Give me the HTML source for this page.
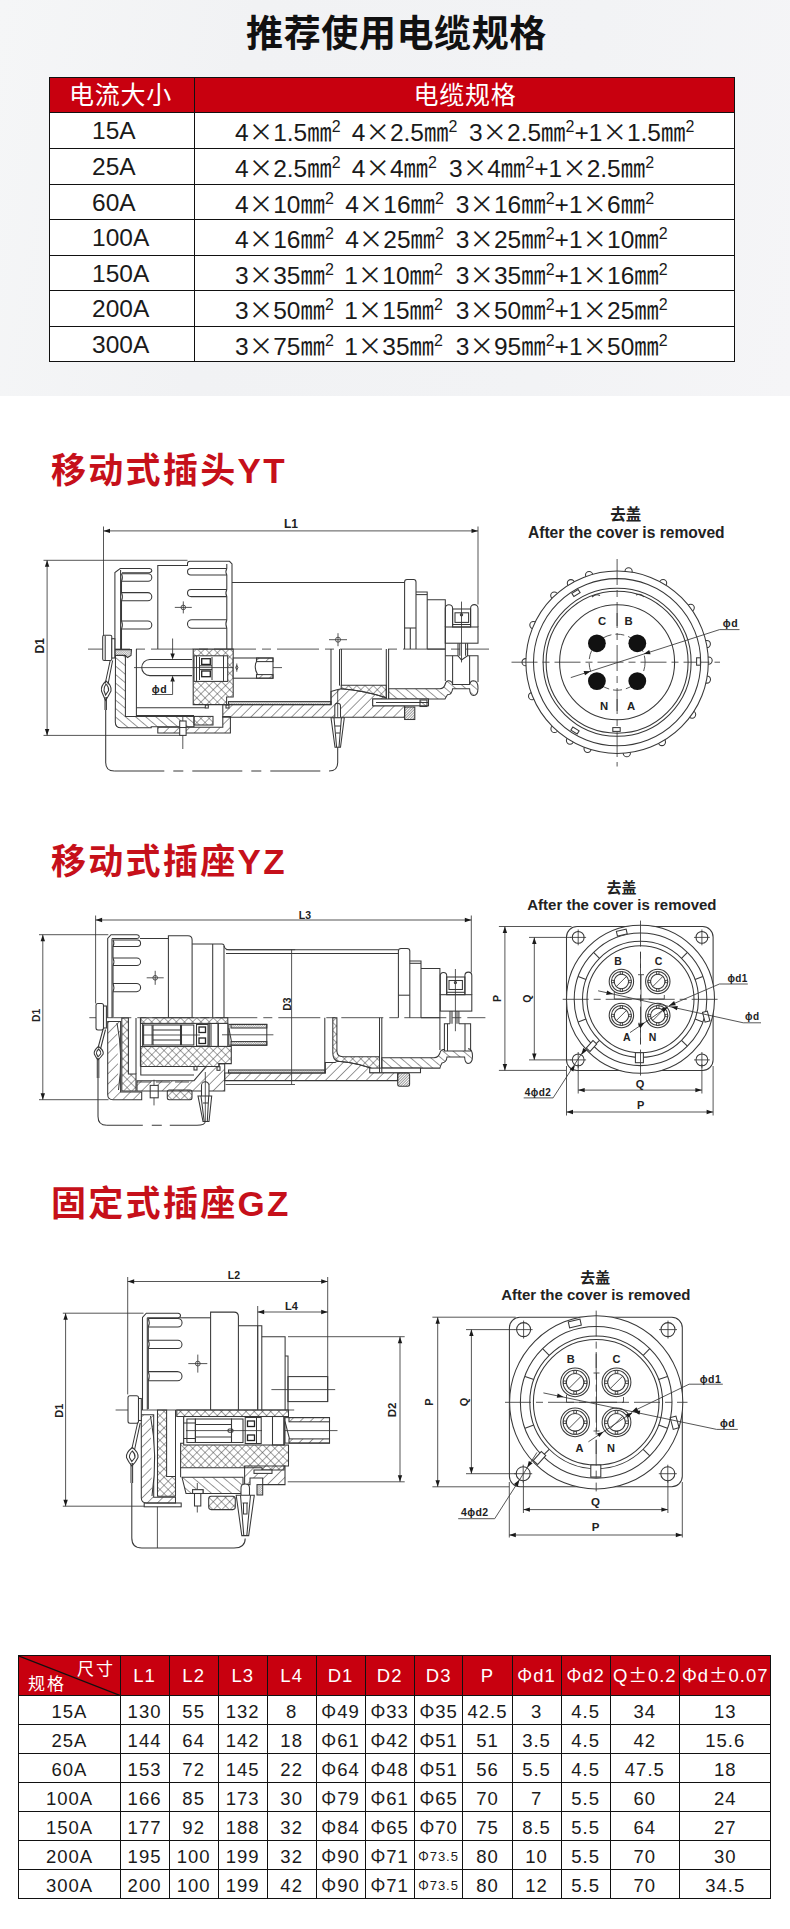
<!DOCTYPE html>
<html lang="zh-CN">
<head>
<meta charset="utf-8">
<title>推荐使用电缆规格</title>
<style>
*{box-sizing:border-box;margin:0;padding:0}
html,body{width:790px;height:1929px;background:#fff;overflow:hidden}
body{position:relative;font-family:"Liberation Sans","Noto Sans CJK SC",sans-serif;color:#1a1a1a}
.c{font-family:"Noto Sans CJK SC",sans-serif}
#top{position:absolute;left:0;top:0;width:790px;height:396px;background:linear-gradient(100deg,#f5f6f7 0%,#f1f2f4 30%,#f2f3f5 70%,#f5f5f7 100%)}
#title{position:absolute;left:0;top:7.5px;width:790px;padding-left:3px;text-align:center;font-size:37px;font-weight:700;color:#111;letter-spacing:0.6px;line-height:54px}
.h{position:absolute;left:51px;font-size:35px;font-weight:700;color:#c6101a;letter-spacing:2.3px;line-height:44px;white-space:nowrap}
/* table 1 */
#t1{position:absolute;left:49px;top:77px;width:686px;height:285px;background:#fff;border:1px solid #111}
#t1 .hd{position:absolute;left:0;top:0;width:100%;height:34px;background:#c8000f;color:#fff;font-size:25px;line-height:35px}
#t1 .r{position:absolute;left:0;width:100%;height:36px;border-top:1px solid #111;font-size:24.5px;line-height:36px;white-space:nowrap}
#t1 .v{position:absolute;left:144px;top:0;width:1px;height:100%;background:#111}
#t1 .a{position:absolute;left:42px;top:0}
#t1 .g{position:absolute;top:0}
#t1 sup{font-size:16px;line-height:0;vertical-align:9px}
/* table 2 */
#t2{position:absolute;left:18px;top:1655px;width:753px;height:244px;background:#fff;border:1px solid #111;font-size:18.5px}
#t2 .hd{position:absolute;left:0;top:0;width:100%;height:39px;background:#c8000f;color:#fff}
#t2 .dg{position:absolute;left:0;top:0}
#t2 .k1{position:absolute;left:58px;top:3px;font-size:17px;letter-spacing:2px;line-height:22px}
#t2 .k2{position:absolute;left:9px;top:18px;font-size:17px;letter-spacing:2px;line-height:22px}
#t2 .hc{position:absolute;top:0;height:39px;line-height:40px;text-align:center;white-space:nowrap;letter-spacing:1px}
#t2 .r{position:absolute;left:0;width:100%;height:29px;border-top:1px solid #111}
#t2 .dc{position:absolute;top:0;height:29px;line-height:31px;text-align:center;white-space:nowrap;letter-spacing:1px}
#t2 .sm{font-size:13px}
#t2 .c{line-height:0}
#t2 .v{position:absolute;top:0;width:1px;height:100%;background:#111}
</style>
</head>
<body>
<div id="top"></div>
<div id="title">推荐使用电缆规格</div>

<div id="t1">
<div class="hd"><span style="position:absolute;left:-2px;width:145px;text-align:center;letter-spacing:.7px">电流大小</span><span style="position:absolute;left:145px;width:540px;text-align:center;letter-spacing:.7px">电缆规格</span></div>
<div class="r" style="top:34px"><span class="a">15A</span><span class="g" style="left:185.0px">4<span class="c">×</span>1.5<span class="c">㎜</span><sup>2</sup></span><span class="g" style="left:301.8px">4<span class="c">×</span>2.5<span class="c">㎜</span><sup>2</sup></span><span class="g" style="left:418.9px">3<span class="c">×</span>2.5<span class="c">㎜</span><sup>2</sup>+1<span class="c">×</span>1.5<span class="c">㎜</span><sup>2</sup></span></div>
<div class="r" style="top:70px"><span class="a">25A</span><span class="g" style="left:185.0px">4<span class="c">×</span>2.5<span class="c">㎜</span><sup>2</sup></span><span class="g" style="left:301.8px">4<span class="c">×</span>4<span class="c">㎜</span><sup>2</sup></span><span class="g" style="left:399.0px">3<span class="c">×</span>4<span class="c">㎜</span><sup>2</sup>+1<span class="c">×</span>2.5<span class="c">㎜</span><sup>2</sup></span></div>
<div class="r" style="top:106px"><span class="a">60A</span><span class="g" style="left:185.0px">4<span class="c">×</span>10<span class="c">㎜</span><sup>2</sup></span><span class="g" style="left:295.2px">4<span class="c">×</span>16<span class="c">㎜</span><sup>2</sup></span><span class="g" style="left:405.8px">3<span class="c">×</span>16<span class="c">㎜</span><sup>2</sup>+1<span class="c">×</span>6<span class="c">㎜</span><sup>2</sup></span></div>
<div class="r" style="top:141px"><span class="a">100A</span><span class="g" style="left:185.0px">4<span class="c">×</span>16<span class="c">㎜</span><sup>2</sup></span><span class="g" style="left:295.2px">4<span class="c">×</span>25<span class="c">㎜</span><sup>2</sup></span><span class="g" style="left:405.8px">3<span class="c">×</span>25<span class="c">㎜</span><sup>2</sup>+1<span class="c">×</span>10<span class="c">㎜</span><sup>2</sup></span></div>
<div class="r" style="top:177px"><span class="a">150A</span><span class="g" style="left:185.0px">3<span class="c">×</span>35<span class="c">㎜</span><sup>2</sup></span><span class="g" style="left:294.2px">1<span class="c">×</span>10<span class="c">㎜</span><sup>2</sup></span><span class="g" style="left:405.8px">3<span class="c">×</span>35<span class="c">㎜</span><sup>2</sup>+1<span class="c">×</span>16<span class="c">㎜</span><sup>2</sup></span></div>
<div class="r" style="top:212px"><span class="a">200A</span><span class="g" style="left:185.0px">3<span class="c">×</span>50<span class="c">㎜</span><sup>2</sup></span><span class="g" style="left:294.2px">1<span class="c">×</span>15<span class="c">㎜</span><sup>2</sup></span><span class="g" style="left:405.8px">3<span class="c">×</span>50<span class="c">㎜</span><sup>2</sup>+1<span class="c">×</span>25<span class="c">㎜</span><sup>2</sup></span></div>
<div class="r" style="top:248px"><span class="a">300A</span><span class="g" style="left:185.0px">3<span class="c">×</span>75<span class="c">㎜</span><sup>2</sup></span><span class="g" style="left:294.2px">1<span class="c">×</span>35<span class="c">㎜</span><sup>2</sup></span><span class="g" style="left:405.8px">3<span class="c">×</span>95<span class="c">㎜</span><sup>2</sup>+1<span class="c">×</span>50<span class="c">㎜</span><sup>2</sup></span></div>
<div class="v"></div>
</div>

<div class="h" style="top:449px">移动式插头YT</div>
<div class="h" style="top:840px">移动式插座YZ</div>
<div class="h" style="top:1182px">固定式插座GZ</div>

<svg id="dw" width="790" height="1929" viewBox="0 0 790 1929" style="position:absolute;left:0;top:0">
<style>
.l{stroke:#383838;stroke-width:1.05;fill:none}
.b{stroke:#222;stroke-width:1.3;fill:none}
.t{stroke:#383838;stroke-width:.85;fill:none}
.cl{stroke:#383838;stroke-width:.85;fill:none;stroke-dasharray:42 6 9 6}
.cl2{stroke:#383838;stroke-width:.85;fill:none;stroke-dasharray:26 5 7 5}
.ar{fill:#1a1a1a;stroke:none}
.dot{fill:#111;stroke:none}
.tx{font-family:"Liberation Sans",sans-serif;font-weight:700;fill:#222}
.tc{font-family:"Liberation Sans","Noto Sans CJK SC",sans-serif;font-weight:700;fill:#222}
</style>
<defs>
<pattern id="hA" width="7.2" height="7.2" patternUnits="userSpaceOnUse" patternTransform="rotate(-45)"><line x1="0" y1="0" x2="7.2" y2="0" stroke="#333" stroke-width="1"/></pattern>
<pattern id="hB" width="6.5" height="6.5" patternUnits="userSpaceOnUse" patternTransform="rotate(40)"><line x1="0" y1="0" x2="6.5" y2="0" stroke="#333" stroke-width="1"/></pattern>
<pattern id="hX" width="5.8" height="5.8" patternUnits="userSpaceOnUse" patternTransform="rotate(45)"><path d="M0 0H5.8M0 0V5.8" stroke="#333" stroke-width="0.9" fill="none"/></pattern>
<pattern id="hF" width="1.6" height="1.6" patternUnits="userSpaceOnUse" patternTransform="rotate(45)"><path d="M0 0H1.6M0 0V1.6" stroke="#555" stroke-width="0.5" fill="none"/></pattern>
<pattern id="hK" width="1.9" height="1.9" patternUnits="userSpaceOnUse" patternTransform="rotate(-45)"><line x1="0" y1="0" x2="1.9" y2="0" stroke="#333" stroke-width="1"/></pattern>
</defs>
<g id="yt-side">
<line class="t" x1="103.5" y1="526.5" x2="103.5" y2="636"/>
<line class="t" x1="478" y1="526.5" x2="478" y2="604.5"/>
<line class="t" x1="103.5" y1="530.9" x2="478" y2="530.9"/>
<polygon class="ar" points="103.5,530.9 110,528.7 110,533.1"/>
<polygon class="ar" points="478,530.9 471.5,533.1 471.5,528.7"/>
<text class="tx" x="291" y="528" font-size="12" text-anchor="middle">L1</text>
<line class="t" x1="43.5" y1="560.3" x2="187.5" y2="560.3"/>
<line class="t" x1="43.5" y1="735.4" x2="183.5" y2="735.4"/>
<line class="t" x1="47.1" y1="560.3" x2="47.1" y2="735.4"/>
<polygon class="ar" points="47.1,560.3 49.3,566.8 44.9,566.8"/>
<polygon class="ar" points="47.1,735.4 44.9,728.9 49.3,728.9"/>
<text class="tx" x="43.6" y="645.8" font-size="12" text-anchor="middle" transform="rotate(-90 43.6 645.8)">D1</text>
<line class="cl" x1="88" y1="649.1" x2="489" y2="649.1"/>
<path class="l" d="M115.5 655.5H125.4V716.4H194V726.8H151.2V727.8H121Q115.3 727.8 115.3 722Z" style="fill:url(#hB)"/>
<path class="l" d="M115 649.6H131.5L131 655.5L127.5 657.5L125.4 655.3H115Z" style="fill:url(#hF)"/>
<rect class="l" x="194" y="716.4" width="19" height="8.6" style="fill:url(#hX)"/>
<path class="l" d="M157.8 727.2H222.8V716.5H230.4V733H157.8Z" style="fill:url(#hA)"/>
<path class="l" d="M193.2 649.1H233.2V697H226.6V704.6H193.2Z" style="fill:url(#hX)"/>
<rect class="l" x="194" y="655.8" width="33.7" height="25.6" style="fill:#fff"/>
<path class="l" d="M222.8 704.6H331V691.5Q336 689.6 341.2 688.7Q365 690.5 386.3 697.8V699H372.7V705.8H404.6V717.2H222.8Z" style="fill:url(#hA)"/>
<rect class="l" x="228.5" y="701.6" width="102.5" height="3" style="fill:url(#hF)"/>
<path class="l" d="M341.2 685.3H386.3V697.8Q365 690.5 341.2 688.7Z" style="fill:url(#hX)"/>
<path class="l" d="M388.6 688.7H440Q444 688.5 445.3 684Q446 680.5 449 680.8Q452.4 681.5 452.6 684.5H469.6Q470 681 473.5 680.8Q478 681 478 688Q478 695.5 473.5 695.5Q470 695.5 469.6 688.7H452.6Q452 694.5 447.5 694.8Q446 697 445 699H388.6Z" style="fill:url(#hB)"/>
<rect class="l" x="372.7" y="699" width="55.8" height="6.8" style="fill:#fff"/>
<line class="l" x1="376" y1="702.4" x2="428.5" y2="702.4"/>
<rect class="l" x="420" y="700" width="7" height="6.5" style="fill:url(#hB)"/>
<rect class="l" x="404.6" y="707" width="10.2" height="12.5" style="fill:url(#hK)"/>
<path class="l" d="M114.9 649V572.5L120.2 568.5H149.5Q151.8 568.8 151.8 570.6Q151.8 572.5 149.5 572.7H122"/>
<line class="l" x1="120.6" y1="570" x2="120.6" y2="649"/>
<path class="l" d="M121.5 573.8H148.1A3.7 3.7 0 0 1 148.1 581.2H121.5"/>
<path class="l" d="M121.5 592.6H147.7A4.1 4.1 0 0 1 147.7 600.8H121.5"/>
<path class="l" d="M121.5 621H147.8A4 4 0 0 1 147.8 629H121.5"/>
<path class="l" d="M121.5 573.8Q123.3 577.5 121.5 581.2V592.6Q123.3 596.7 121.5 600.8V621Q123.3 625 121.5 629V649"/>
<path class="l" d="M157.8 649V565.4H187.5"/>
<path class="l" d="M187.5 566V563.5Q187.5 561.3 190 561.3H229.5L232 564V649"/>
<path class="l" d="M226.8 568.5H190.8A3.2 3.2 0 0 0 190.8 575H226.8"/>
<path class="l" d="M226.8 589.4H191.1A3.6 3.6 0 0 0 191.1 596.6H226.8"/>
<path class="l" d="M226.8 619.7H191.8A4.3 4.3 0 0 0 191.8 628.3H226.8"/>
<path class="l" d="M226.8 564V568.5Q225 571.7 226.8 575V589.4Q225 593 226.8 596.6V619.7Q225 624 226.8 628.3V649"/>
<circle class="t" cx="183.3" cy="607.4" r="2.3"/>
<line class="t" x1="174.8" y1="607.4" x2="191.8" y2="607.4"/>
<line class="t" x1="183.3" y1="601.4" x2="183.3" y2="613.4"/>
<line class="l" x1="232" y1="582.5" x2="404.6" y2="582.5"/>
<path class="l" d="M404.6 649V582Q404.6 579.4 407 579.4H413.6Q416 579.4 416 582V649"/>
<line class="l" x1="404.6" y1="628" x2="416" y2="628"/>
<line class="l" x1="410.3" y1="628" x2="410.3" y2="649"/>
<path class="l" d="M416 591.9H427.2V649"/>
<line class="l" x1="416" y1="594.6" x2="427.2" y2="594.6"/>
<path class="l" d="M427.2 599.8H445.3V681"/>
<line class="l" x1="427.2" y1="649.1" x2="445.3" y2="649.1"/>
<path class="l" d="M445.3 627V608.3A3.65 3.65 0 0 1 452.6 608.3V627"/>
<path class="l" d="M470.6 627V608.3A3.7 3.7 0 0 1 478 608.3V627"/>
<rect class="l" x="445.3" y="627" width="32.7" height="16.2"/>
<rect class="l" x="452.6" y="609" width="18" height="18"/>
<rect class="l" x="455" y="612.8" width="13.6" height="9.6"/>
<line class="l" x1="452.6" y1="624.5" x2="470.6" y2="624.5"/>
<circle class="l" cx="461.5" cy="614.8" r="1.2"/>
<line class="t" x1="461.5" y1="601.6" x2="461.5" y2="662.4"/>
<path class="l" d="M458 643.2V655.8L461.5 660L467.6 655.8V643.2"/>
<line class="l" x1="459.8" y1="643.2" x2="459.8" y2="655.8"/>
<line class="l" x1="465.6" y1="643.2" x2="465.6" y2="655.8"/>
<path class="l" d="M445.3 655.8H458M467.6 655.8H478V682"/>
<line class="l" x1="452.6" y1="655.8" x2="452.6" y2="684"/>
<line class="l" x1="469.6" y1="655.8" x2="469.6" y2="684"/>
<rect class="l" x="102.7" y="635.2" width="9.1" height="25.3" rx="1.5" style="fill:#fff"/>
<line class="l" x1="105.2" y1="636" x2="105.2" y2="660"/>
<rect class="l" x="111.8" y="638.7" width="3" height="19.3" style="fill:#fff"/>
<path class="l" d="M110.2 660.5L105.2 683.5M112.6 660.5L108 684.5"/>
<path class="l" d="M106 681Q100.5 686 101.5 691Q103.5 696 105.6 700.5Q108.5 696 111 691Q112 685.5 106 681ZM106 684Q103.5 687.5 104 690.5L105.6 695L108.6 690.5Q109 687 106 684Z"/>
<path class="l" d="M105 697V710M106.4 697V710"/>
<path class="l" d="M105.7 710V762.4Q105.7 771 114.3 771"/>
<line class="l" x1="114.3" y1="771" x2="329" y2="771" stroke-dasharray="50 9 10 9"/>
<path class="l" d="M337.7 747.3V762.4Q337.7 771 329 771"/>
<path class="l" d="M136.4 649V715.4H194"/>
<line class="l" x1="136.4" y1="707.8" x2="205.3" y2="707.8"/>
<path class=" l" d="M192 659.4H149.8A8.1 8.1 0 0 0 149.8 675.6H192" style="fill:#fff"/>
<line class="t" x1="134" y1="667.6" x2="282" y2="667.6"/>
<line class="t" x1="172.6" y1="638.5" x2="172.6" y2="655"/>
<polygon class="ar" points="172.6,659.4 170.4,653.4 174.8,653.4"/>
<polygon class="ar" points="172.6,675.6 174.8,681.6 170.4,681.6"/>
<path class="t" d="M172.6 680V694.5H152"/>
<text class="tx" x="159.5" y="693" font-size="10.5" text-anchor="middle" letter-spacing="0.5">ϕd</text>
<line class="l" x1="196.5" y1="655.8" x2="196.5" y2="681.4"/>
<line class="l" x1="199.5" y1="657" x2="199.5" y2="680"/>
<rect class="b" x="201.7" y="658.7" width="8.6" height="5.7"/>
<rect class="b" x="201.7" y="671" width="8.6" height="5.7"/>
<line class="l" x1="200" y1="665.8" x2="212" y2="665.8"/>
<line class="l" x1="200" y1="669.6" x2="212" y2="669.6"/>
<line class="l" x1="212" y1="657" x2="212" y2="680"/>
<line class="l" x1="223.5" y1="655.8" x2="223.5" y2="681.4"/>
<rect class="l" x="233.2" y="658" width="39.8" height="20.2" style="fill:#fff"/>
<rect class="l" x="256.5" y="658" width="16.5" height="3.6" style="fill:url(#hA)"/>
<rect class="l" x="256.5" y="674.6" width="16.5" height="3.6" style="fill:url(#hA)"/>
<path class="l" d="M256.5 661.6Q253.5 667 257.5 674.6"/>
<line class="t" x1="236.8" y1="663.5" x2="236.8" y2="671.7"/>
<path class="t" d="M235.6 667.6L236.8 665.4L238 667.6L236.8 669.8Z"/>
<line class="t" x1="182.8" y1="716.4" x2="182.8" y2="749"/>
<rect class="l" x="179.7" y="721" width="6.4" height="14.4" style="fill:#fff"/>
<line class="l" x1="179.7" y1="727.5" x2="186.1" y2="727.5"/>
<rect class="l" x="205.3" y="705" width="3" height="3"/>
<rect class="l" x="226" y="705" width="3" height="3"/>
<line class="l" x1="331" y1="649.1" x2="331" y2="704.6"/>
<line class="l" x1="339.5" y1="649.1" x2="339.5" y2="685.6"/>
<line class="l" x1="341.4" y1="649.1" x2="341.4" y2="685.6"/>
<line class="l" x1="386.3" y1="649.1" x2="386.3" y2="699"/>
<line class="l" x1="388.6" y1="649.1" x2="388.6" y2="699"/>
<circle class="t" cx="338" cy="639.7" r="2.5"/>
<line class="t" x1="329" y1="639.7" x2="347" y2="639.7"/>
<line class="t" x1="338" y1="633.2" x2="338" y2="646.2"/>
<path class="l" d="M334.8 717V706A2.85 2.85 0 0 1 340.5 706V717" style="fill:#fff"/>
<line class="t" x1="337.7" y1="690" x2="337.7" y2="747.3"/>
<path class="l" d="M331 717.8H344.3L340.5 747.3H335Z" style="fill:#fff"/>
<path class="l" d="M334 717.8L336.6 747.3M341.4 717.8L339 747.3M335 726H340.4M336 733H339.6"/>
</g>
<g id="yt-front">
<text class="tc" x="625.7" y="519.5" font-size="15.5" text-anchor="middle">去盖</text>
<text class="tx" x="626.3" y="538" font-size="15.6" text-anchor="middle">After the cover is removed</text>
<circle class="l" cx="589.1" cy="575.1" r="3.6" style="fill:#fff"/>
<circle class="l" cx="628.6" cy="571.4" r="3.6" style="fill:#fff"/>
<circle class="l" cx="663.1" cy="583.1" r="3.6" style="fill:#fff"/>
<circle class="l" cx="690.7" cy="607.8" r="3.6" style="fill:#fff"/>
<circle class="l" cx="706.8" cy="644" r="3.6" style="fill:#fff"/>
<circle class="l" cx="708.6" cy="660.6" r="3.6" style="fill:#fff"/>
<circle class="l" cx="706.9" cy="679.5" r="3.6" style="fill:#fff"/>
<circle class="l" cx="692.1" cy="714.6" r="3.6" style="fill:#fff"/>
<circle class="l" cx="661.9" cy="742" r="3.6" style="fill:#fff"/>
<circle class="l" cx="626.8" cy="753.2" r="3.6" style="fill:#fff"/>
<circle class="l" cx="587.6" cy="748.8" r="3.6" style="fill:#fff"/>
<circle class="l" cx="570" cy="740.6" r="3.6" style="fill:#fff"/>
<circle class="l" cx="554.5" cy="728.9" r="3.6" style="fill:#fff"/>
<circle class="l" cx="532.1" cy="696.2" r="3.6" style="fill:#fff"/>
<circle class="l" cx="525.6" cy="662.2" r="3.6" style="fill:#fff"/>
<circle class="l" cx="533.4" cy="625.1" r="3.6" style="fill:#fff"/>
<circle class="l" cx="554.3" cy="595.6" r="3.6" style="fill:#fff"/>
<circle class="l" cx="570.9" cy="583.2" r="3.6" style="fill:#fff"/>
<circle class="l" cx="617.1" cy="662.2" r="91.2" style="fill:#fff"/>
<circle class="l" cx="617.1" cy="662.2" r="83.6"/>
<circle class="l" cx="617.1" cy="662.2" r="74"/>
<circle class="l" cx="617.1" cy="662.2" r="71"/>
<circle class="l" cx="617.1" cy="662.2" r="57.5"/>
<line class="cl2" x1="511.5" y1="662.2" x2="720" y2="662.2"/>
<line class="cl2" x1="617.1" y1="559" x2="617.1" y2="766.5"/>
<circle class="t" cx="617.1" cy="662.2" r="28" stroke-dasharray="9 4"/>
<circle class="dot" cx="596.9" cy="643.3" r="8.9"/>
<circle class="dot" cx="596.9" cy="681.1" r="8.9"/>
<circle class="dot" cx="637.3" cy="643.3" r="8.9"/>
<circle class="dot" cx="637.3" cy="681.1" r="8.9"/>
<text class="tx" x="602.1" y="624.7" font-size="11.3" text-anchor="middle">C</text>
<text class="tx" x="628.6" y="624.7" font-size="11.3" text-anchor="middle">B</text>
<text class="tx" x="604.1" y="710" font-size="11.3" text-anchor="middle">N</text>
<text class="tx" x="631.2" y="710" font-size="11.3" text-anchor="middle">A</text>
<line class="t" x1="617.1" y1="613" x2="617.1" y2="626"/>
<line class="t" x1="617.1" y1="699" x2="617.1" y2="711"/>
<rect class="l" x="572.3" y="591.1" width="7.4" height="3.8" style="fill:#fff" transform="rotate(-32 576 593)"/>
<rect class="l" x="612.8" y="727.6" width="7.4" height="3.8" style="fill:#fff" transform="rotate(0 616.5 729.5)"/>
<rect class="l" x="694.8" y="659.6" width="7.4" height="3.8" style="fill:#fff" transform="rotate(90 698.5 661.5)"/>
<rect class="l" x="571.3" y="728.6" width="7.4" height="3.8" style="fill:#fff" transform="rotate(32 575 730.5)"/>
<path class="l" d="M592 597Q596 593.5 600 595.5M636 595Q641 593 644 597"/>
<path class="t" d="M570.8 677.6L719.6 629.6H739.5"/>
<polygon class="ar" points="590.5,671.2 585,675.3 583.6,671.1"/>
<polygon class="ar" points="643.7,654.1 649.2,650 650.6,654.2"/>
<text class="tx" x="730.5" y="627" font-size="10.5" text-anchor="middle" letter-spacing="0.5">ϕd</text>
</g>
<g id="yz-side">
<line class="t" x1="95.6" y1="915.5" x2="95.6" y2="1003.5"/>
<line class="t" x1="471.3" y1="915.5" x2="471.3" y2="972.4"/>
<line class="t" x1="95.6" y1="920" x2="471.3" y2="920"/>
<polygon class="ar" points="95.6,920 102.1,917.8 102.1,922.2"/>
<polygon class="ar" points="471.3,920 464.8,922.2 464.8,917.8"/>
<text class="tx" x="305" y="918.5" font-size="10.5" text-anchor="middle">L3</text>
<line class="t" x1="39" y1="934.7" x2="108.3" y2="934.7"/>
<line class="t" x1="39" y1="1099.7" x2="108.5" y2="1099.7"/>
<line class="t" x1="42.8" y1="934.7" x2="42.8" y2="1099.7"/>
<polygon class="ar" points="42.8,934.7 45,941.2 40.6,941.2"/>
<polygon class="ar" points="42.8,1099.7 40.6,1093.2 45,1093.2"/>
<text class="tx" x="40.5" y="1015.3" font-size="10.3" text-anchor="middle" transform="rotate(-90 40.5 1015.3)">D1</text>
<line class="t" x1="291.6" y1="949.7" x2="291.6" y2="1084.5"/>
<line class="t" x1="226" y1="949.7" x2="295.2" y2="949.7"/>
<line class="t" x1="225.6" y1="1084.5" x2="295" y2="1084.5"/>
<text class="tx" x="290.3" y="1004" font-size="10.3" text-anchor="middle" transform="rotate(-90 290.5 1004)">D3</text>
<line class="cl" x1="89.3" y1="1017.7" x2="485.4" y2="1017.7"/>
<path class="l" d="M107.7 1021.5H120.6V1092H141.7V1099.7H113Q107.7 1099.7 107.7 1094.5Z" style="fill:url(#hA)"/>
<path class="l" d="M117 1023Q123.5 1055 118.5 1090" style="fill:#fff"/>
<path class="l" d="M121.8 1018H128.4V1074H136V1091H121.8Z" style="fill:url(#hX)"/>
<path class="l" d="M140.8 1017.7H227.8V1023.4H209V1046.5H231.3V1063.6H219V1066.5H140.8V1046.5H142.7V1023.4H140.8Z" style="fill:url(#hX)"/>
<path class="l" d="M137 1080.7H194L206 1066.5H219V1063.6H224.7V1091H137Z" style="fill:url(#hA)"/>
<line class="t" x1="137" y1="1082" x2="192" y2="1082" stroke-dasharray="14 5"/>
<rect class="l" x="167.3" y="1090" width="24.7" height="9.7" rx="2" style="fill:url(#hX)"/>
<path class="l" d="M224.7 1073H325.3V1062.4H335Q337 1061.5 338 1061.3Q360 1063 379.5 1071.5V1072.7H369.7V1072.7H397.7V1080.6H224.7Z" style="fill:url(#hA)"/>
<rect class="l" x="228.5" y="1070" width="96.8" height="3" style="fill:url(#hF)"/>
<path class="l" d="M332.8 1017.7H336.9V1051Q337 1056.7 343 1056.7H379.5V1071.5Q360 1063 338 1061.3Q332.8 1060 332.8 1053Z" style="fill:url(#hX)"/>
<path class="l" d="M381.8 1057.8H434Q438.5 1057.5 439.9 1053Q441 1049 444.4 1049.5V1051H470.6Q471 1048.5 468 1048.7Q472.5 1049 472.5 1056Q472.5 1063.5 468 1063.5Q465 1063.5 464.6 1057H447Q446.5 1062.5 442 1063Q440.5 1065.5 439.9 1068.1H381.8Z" style="fill:url(#hB)"/>
<rect class="l" x="369.7" y="1068.1" width="50.8" height="4.6" style="fill:#fff"/>
<rect class="l" x="397.7" y="1073" width="11.9" height="13.3" rx="2" style="fill:url(#hK)"/>
<path class="l" d="M107.7 1017.7V938.5L111 934.7H137Q139.3 935 139.3 936.7Q139.3 938.3 137 938.5H112"/>
<line class="l" x1="112" y1="938.5" x2="112" y2="1017.7"/>
<path class="l" d="M113 939.9H137.3A3.3 3.3 0 0 1 137.3 946.5H113"/>
<path class="l" d="M113 957.9H136.8A3.8 3.8 0 0 1 136.8 965.5H113"/>
<path class="l" d="M113 983.5H136.5A4.1 4.1 0 0 1 136.5 991.7H113"/>
<path class="l" d="M113 939.9Q114.8 943.2 113 946.5V957.9Q114.8 961.7 113 965.5V983.5Q114.8 987.6 113 991.7V1017"/>
<line class="l" x1="140" y1="938.5" x2="168.4" y2="938.5"/>
<circle class="t" cx="155.2" cy="977.8" r="2.3"/>
<line class="t" x1="146.7" y1="977.8" x2="163.7" y2="977.8"/>
<line class="t" x1="155.2" y1="970.8" x2="155.2" y2="984.8"/>
<path class="l" d="M168.4 1017.7V935.7H188Q192.1 935.7 192.1 940V1017.7"/>
<path class="l" d="M192.1 944H222Q224 944 224.3 946.5Q225 949.7 229 949.7H398.4"/>
<line class="l" x1="212.7" y1="944" x2="212.7" y2="1017.7"/>
<line class="l" x1="224" y1="946" x2="224" y2="1017.7"/>
<line class="l" x1="226" y1="953.5" x2="398.4" y2="953.5"/>
<path class="l" d="M398.4 1017.7V951Q398.4 948.5 401 948.5H407.2Q409.8 948.5 409.8 951V1017.7"/>
<line class="l" x1="398.4" y1="995.2" x2="409.8" y2="995.2"/>
<path class="l" d="M409.8 961H421V1017.7"/>
<line class="l" x1="409.8" y1="963.3" x2="421" y2="963.3"/>
<path class="l" d="M421 968.5H439.9V1050"/>
<line class="l" x1="421" y1="1017.7" x2="439.9" y2="1017.7"/>
<path class="l" d="M440.3 994.7V975.6A3.2 3.2 0 0 1 446.7 975.6V994.7"/>
<path class="l" d="M464.9 994.7V975.6A3.45 3.45 0 0 1 471.8 975.6V994.7"/>
<rect class="l" x="440.3" y="994.7" width="31.5" height="16.4"/>
<rect class="l" x="446.7" y="977" width="18.2" height="17.7"/>
<rect class="l" x="449" y="980.5" width="13.4" height="9"/>
<line class="l" x1="446.7" y1="992.3" x2="464.9" y2="992.3"/>
<circle class="l" cx="455.4" cy="982.6" r="1.1"/>
<line class="t" x1="455.4" y1="969" x2="455.4" y2="1031.2"/>
<path class="l" d="M450 1011.1V1023.7M458.9 1011.1V1023.7"/>
<line class="l" x1="452" y1="1011.1" x2="452" y2="1023.7"/>
<line class="l" x1="457" y1="1011.1" x2="457" y2="1023.7"/>
<path class="l" d="M444.4 1051V1023.7H450M458.9 1023.7H470.6V1051"/>
<line class="l" x1="447.5" y1="1023.7" x2="447.5" y2="1051"/>
<line class="l" x1="465" y1="1023.7" x2="465" y2="1051"/>
<rect class="l" x="96" y="1003.5" width="7.5" height="26.5" rx="2" style="fill:#fff"/>
<rect class="l" x="103.5" y="1006" width="2.9" height="22" style="fill:#fff"/>
<path class="l" d="M103 1029.5L98 1048M105.5 1029.5L100.5 1049"/>
<path class="l" d="M98.5 1046.5Q93.5 1050.5 94.3 1054Q96 1057.5 98 1060Q101 1057 103.2 1054Q103.8 1050 98.5 1046.5ZM98.6 1049Q96 1051.5 96.5 1053.8L98 1056.8L100.8 1053.8Q101.3 1051.5 98.6 1049Z"/>
<path class="l" d="M97.3 1058V1078M98.8 1058V1078"/>
<path class="l" d="M98 1078V1116.5Q98 1125.3 106.8 1125.3"/>
<line class="l" x1="106.8" y1="1125.3" x2="197" y2="1125.3" stroke-dasharray="36 9 10 8"/>
<path class="l" d="M205.3 1121.5Q205 1125.3 197 1125.3"/>
<line class="l" x1="136" y1="1018" x2="136" y2="1074"/>
<line class="l" x1="140.4" y1="1018" x2="140.4" y2="1066.5"/>
<path class="l" d="M140.8 1066.5V1075H194"/>
<rect class="l" x="142.7" y="1023.4" width="66.3" height="23.1" style="fill:#fff"/>
<rect class="l" x="143.6" y="1025" width="8.5" height="20"/>
<rect class="l" x="153" y="1025" width="27.5" height="20"/>
<line class="l" x1="153" y1="1030" x2="180.5" y2="1030"/>
<line class="l" x1="153" y1="1040" x2="180.5" y2="1040"/>
<line class="t" x1="143" y1="1035" x2="200" y2="1035"/>
<rect class="l" x="181.5" y="1025" width="12.3" height="20"/>
<rect class="l" x="196.5" y="1024.5" width="11.5" height="21.5"/>
<rect class="b" x="199" y="1027" width="6.5" height="5.5"/>
<rect class="b" x="199" y="1038" width="6.5" height="5.5"/>
<rect class="l" x="211" y="1023.4" width="7" height="23"/>
<rect class="l" x="218.4" y="1023.4" width="9.4" height="23" style="fill:#fff"/>
<rect class="l" x="228.8" y="1024.4" width="38" height="20.8" style="fill:#fff"/>
<rect class="l" x="231" y="1024.4" width="35.8" height="3.6" style="fill:url(#hF)"/>
<rect class="l" x="231" y="1041.6" width="35.8" height="3.6" style="fill:url(#hF)"/>
<path class="l" d="M228.8 1028L231.5 1041.6"/>
<line class="t" x1="222" y1="1034.8" x2="273.4" y2="1034.8"/>
<line class="t" x1="154" y1="1079.7" x2="154" y2="1105.4"/>
<rect class="l" x="150.2" y="1085.4" width="8" height="12.4" style="fill:#fff"/>
<line class="l" x1="150.2" y1="1091" x2="158.2" y2="1091"/>
<path class="l" d="M201.5 1095.9V1085.5A3.75 3.75 0 0 1 209 1085.5V1095.9" style="fill:#fff"/>
<path class="l" d="M198 1095.9H211.7L209 1121.5H203Z" style="fill:#fff"/>
<path class="l" d="M201 1095.9L204.2 1121.5M208.7 1095.9L207.3 1121.5M203 1103H208.5"/>
<line class="t" x1="205.3" y1="1072" x2="205.3" y2="1121.5"/>
<rect class="l" x="194" y="1066.5" width="3" height="3.5"/>
<rect class="l" x="217" y="1066.8" width="3" height="3.5"/>
<line class="l" x1="324.8" y1="1017.7" x2="324.8" y2="1073"/>
<line class="l" x1="379.5" y1="1017.7" x2="379.5" y2="1072.7"/>
<line class="l" x1="381.8" y1="1017.7" x2="381.8" y2="1072.7"/>
</g>
<g id="yz-front">
<text class="tc" x="621.4" y="893" font-size="15" text-anchor="middle">去盖</text>
<text class="tx" x="621.9" y="910.2" font-size="15" text-anchor="middle">After the cover is removed</text>
<rect class="l" x="566.5" y="926.5" width="146.6" height="143.9" rx="10.5" style="fill:#fff"/>
<circle class="l" cx="578.2" cy="937.4" r="5.9"/>
<line class="t" x1="570.3" y1="937.4" x2="586.1" y2="937.4"/>
<line class="t" x1="578.2" y1="929.5" x2="578.2" y2="945.3"/>
<circle class="l" cx="701.9" cy="937.4" r="5.9"/>
<line class="t" x1="694" y1="937.4" x2="709.8" y2="937.4"/>
<line class="t" x1="701.9" y1="929.5" x2="701.9" y2="945.3"/>
<circle class="l" cx="578.2" cy="1059.9" r="5.9"/>
<line class="t" x1="570.3" y1="1059.9" x2="586.1" y2="1059.9"/>
<line class="t" x1="578.2" y1="1052" x2="578.2" y2="1067.8"/>
<circle class="l" cx="701.9" cy="1059.9" r="5.9"/>
<line class="t" x1="694" y1="1059.9" x2="709.8" y2="1059.9"/>
<line class="t" x1="701.9" y1="1052" x2="701.9" y2="1067.8"/>
<circle class="l" cx="640.5" cy="999.3" r="74" style="fill:#fff"/>
<circle class="l" cx="640.5" cy="999.3" r="66.3"/>
<circle class="l" cx="640.5" cy="999.3" r="58"/>
<circle class="l" cx="640.5" cy="999.3" r="53.5"/>
<line class="l" x1="599.5" y1="958.3" x2="593.6" y2="952.4"/>
<line class="l" x1="681.5" y1="958.3" x2="687.4" y2="952.4"/>
<line class="l" x1="586" y1="979.5" x2="578.2" y2="976.6"/>
<line class="l" x1="586" y1="1019.1" x2="578.2" y2="1022"/>
<line class="l" x1="695" y1="1019.1" x2="702.8" y2="1022"/>
<line class="l" x1="695" y1="979.5" x2="702.8" y2="976.6"/>
<line class="l" x1="681.5" y1="1040.3" x2="687.4" y2="1046.2"/>
<line class="l" x1="599.5" y1="1040.3" x2="593.6" y2="1046.2"/>
<rect class="l" x="616.8" y="930.1" width="10" height="5" style="fill:#fff" transform="rotate(-13 621.8 932.6)"/>
<rect class="l" x="701.2" y="1014.1" width="10" height="5" style="fill:#fff" transform="rotate(75 706.2 1016.6)"/>
<rect class="l" x="635.4" y="1052.7" width="8" height="10" style="fill:#fff" transform="rotate(0 639.4 1057.7)"/>
<rect class="l" x="586.5" y="1043.5" width="10" height="5" style="fill:#fff" transform="rotate(-48 591.5 1046)"/>
<line class="cl2" x1="562.7" y1="999.3" x2="717.6" y2="999.3"/>
<line class="cl2" x1="640.5" y1="920.6" x2="640.5" y2="1076.6"/>
<circle class="l" cx="621.4" cy="981.5" r="12.2" style="fill:#fff"/>
<circle class="l" cx="621.4" cy="981.5" r="10"/>
<circle class="l" cx="621.4" cy="981.5" r="7.2"/>
<rect class="t" x="611.6" y="980.3" width="2.4" height="2.4" style="fill:#fff"/>
<rect class="t" x="628.8" y="980.3" width="2.4" height="2.4" style="fill:#fff"/>
<rect class="t" x="620.2" y="971.7" width="2.4" height="2.4" style="fill:#fff"/>
<rect class="t" x="620.2" y="988.9" width="2.4" height="2.4" style="fill:#fff"/>
<line class="t" x1="616.4" y1="986.5" x2="626.4" y2="976.5"/>
<circle class="l" cx="621.4" cy="1015.5" r="12.2" style="fill:#fff"/>
<circle class="l" cx="621.4" cy="1015.5" r="10"/>
<circle class="l" cx="621.4" cy="1015.5" r="7.2"/>
<rect class="t" x="611.6" y="1014.3" width="2.4" height="2.4" style="fill:#fff"/>
<rect class="t" x="628.8" y="1014.3" width="2.4" height="2.4" style="fill:#fff"/>
<rect class="t" x="620.2" y="1005.7" width="2.4" height="2.4" style="fill:#fff"/>
<rect class="t" x="620.2" y="1022.9" width="2.4" height="2.4" style="fill:#fff"/>
<line class="t" x1="616.4" y1="1020.5" x2="626.4" y2="1010.5"/>
<circle class="l" cx="657.8" cy="981.5" r="12.2" style="fill:#fff"/>
<circle class="l" cx="657.8" cy="981.5" r="10"/>
<circle class="l" cx="657.8" cy="981.5" r="7.2"/>
<rect class="t" x="648" y="980.3" width="2.4" height="2.4" style="fill:#fff"/>
<rect class="t" x="665.2" y="980.3" width="2.4" height="2.4" style="fill:#fff"/>
<rect class="t" x="656.6" y="971.7" width="2.4" height="2.4" style="fill:#fff"/>
<rect class="t" x="656.6" y="988.9" width="2.4" height="2.4" style="fill:#fff"/>
<line class="t" x1="652.8" y1="986.5" x2="662.8" y2="976.5"/>
<circle class="l" cx="657.8" cy="1015.5" r="12.2" style="fill:#fff"/>
<circle class="l" cx="657.8" cy="1015.5" r="10"/>
<circle class="l" cx="657.8" cy="1015.5" r="7.2"/>
<rect class="t" x="648" y="1014.3" width="2.4" height="2.4" style="fill:#fff"/>
<rect class="t" x="665.2" y="1014.3" width="2.4" height="2.4" style="fill:#fff"/>
<rect class="t" x="656.6" y="1005.7" width="2.4" height="2.4" style="fill:#fff"/>
<rect class="t" x="656.6" y="1022.9" width="2.4" height="2.4" style="fill:#fff"/>
<line class="t" x1="652.8" y1="1020.5" x2="662.8" y2="1010.5"/>
<path class="t" d="M614.3 992V999H664.3V995"/>
<path class="t" d="M638 974.7H644M641 974.7V1023.3M638 1023.3H644"/>
<line class="t" x1="640.5" y1="952" x2="640.5" y2="968"/>
<line class="t" x1="640.5" y1="1030" x2="640.5" y2="1044"/>
<text class="tx" x="618.1" y="965.2" font-size="10.5" text-anchor="middle">B</text>
<text class="tx" x="658.6" y="965.2" font-size="10.5" text-anchor="middle">C</text>
<text class="tx" x="626.8" y="1040.8" font-size="10.5" text-anchor="middle">A</text>
<text class="tx" x="652.6" y="1040.8" font-size="10.5" text-anchor="middle">N</text>
<line class="t" x1="498.9" y1="926.5" x2="571.5" y2="926.5"/>
<line class="t" x1="498.9" y1="1070.4" x2="566" y2="1070.4"/>
<line class="t" x1="504.9" y1="926.5" x2="504.9" y2="1070.4"/>
<polygon class="ar" points="504.9,926.5 507.1,933 502.7,933"/>
<polygon class="ar" points="504.9,1070.4 502.7,1063.9 507.1,1063.9"/>
<text class="tx" x="501.5" y="998.6" font-size="10.5" text-anchor="middle" transform="rotate(-90 501.5 998.6)">P</text>
<line class="t" x1="529" y1="937.4" x2="571" y2="937.4"/>
<line class="t" x1="529" y1="1059.9" x2="571.5" y2="1059.9"/>
<line class="t" x1="534.3" y1="937.4" x2="534.3" y2="1059.9"/>
<polygon class="ar" points="534.3,937.4 536.5,943.9 532.1,943.9"/>
<polygon class="ar" points="534.3,1059.9 532.1,1053.4 536.5,1053.4"/>
<text class="tx" x="531" y="998.6" font-size="10.5" text-anchor="middle" transform="rotate(-90 531 998.6)">Q</text>
<line class="t" x1="578.2" y1="1064" x2="578.2" y2="1093.5"/>
<line class="t" x1="701.9" y1="1064" x2="701.9" y2="1093.5"/>
<line class="t" x1="578.2" y1="1090.1" x2="701.9" y2="1090.1"/>
<polygon class="ar" points="578.2,1090.1 584.7,1087.9 584.7,1092.3"/>
<polygon class="ar" points="701.9,1090.1 695.4,1092.3 695.4,1087.9"/>
<text class="tx" x="640" y="1088" font-size="11" text-anchor="middle">Q</text>
<line class="t" x1="566.5" y1="1066" x2="566.5" y2="1115.5"/>
<line class="t" x1="713.1" y1="1066" x2="713.1" y2="1115.5"/>
<line class="t" x1="566.5" y1="1112" x2="713.1" y2="1112"/>
<polygon class="ar" points="566.5,1112 573,1109.8 573,1114.2"/>
<polygon class="ar" points="713.1,1112 706.6,1114.2 706.6,1109.8"/>
<text class="tx" x="640.6" y="1109" font-size="11" text-anchor="middle">P</text>
<path class="t" d="M747.8 984H719.4L669 1005.7"/>
<polygon class="ar" points="669,1005.7 674.1,1001.1 675.8,1005.2"/>
<text class="tx" x="737.6" y="982" font-size="10" text-anchor="middle" letter-spacing="0.4">ϕd1</text>
<path class="t" d="M761 1022.8H743.3L598.1 990.8"/>
<polygon class="ar" points="671,1006.8 677.8,1006 676.9,1010.3"/>
<polygon class="ar" points="613,994.1 606.2,994.9 607.1,990.6"/>
<text class="tx" x="752.2" y="1020.4" font-size="10" text-anchor="middle" letter-spacing="0.4">ϕd</text>
<path class="t" d="M630 1032.6L667.5 1007"/>
<polygon class="ar" points="644.5,1022.7 640.4,1028.2 637.9,1024.5"/>
<polygon class="ar" points="668,1006.7 663.9,1012.2 661.4,1008.5"/>
<path class="t" d="M523.7 1097.9H553.1L583.9 1050"/>
<polygon class="ar" points="575,1064.9 573.3,1071.6 569.6,1069.2"/>
<polygon class="ar" points="581.5,1054.8 583.2,1048.1 586.9,1050.5"/>
<text class="tx" x="538" y="1095.5" font-size="10" text-anchor="middle" letter-spacing="0.4">4ϕd2</text>
</g>
<g id="gz-side">
<line class="t" x1="127.7" y1="1277" x2="127.7" y2="1394.4"/>
<line class="t" x1="327.7" y1="1277" x2="327.7" y2="1401.6"/>
<line class="t" x1="127.7" y1="1281.5" x2="327.7" y2="1281.5"/>
<polygon class="ar" points="127.7,1281.5 134.2,1279.3 134.2,1283.7"/>
<polygon class="ar" points="327.7,1281.5 321.2,1283.7 321.2,1279.3"/>
<text class="tx" x="234" y="1279" font-size="10.5" text-anchor="middle">L2</text>
<line class="t" x1="257.7" y1="1306" x2="257.7" y2="1409.6"/>
<line class="t" x1="257.7" y1="1312" x2="327.7" y2="1312"/>
<polygon class="ar" points="257.7,1312 264.2,1309.8 264.2,1314.2"/>
<polygon class="ar" points="327.7,1312 321.2,1314.2 321.2,1309.8"/>
<text class="tx" x="291.5" y="1309.7" font-size="11" text-anchor="middle">L4</text>
<line class="t" x1="62.8" y1="1313.2" x2="143.5" y2="1313.2"/>
<line class="t" x1="62.8" y1="1506.2" x2="144.2" y2="1506.2"/>
<line class="t" x1="65.6" y1="1313.2" x2="65.6" y2="1506.2"/>
<polygon class="ar" points="65.6,1313.2 67.8,1319.7 63.4,1319.7"/>
<polygon class="ar" points="65.6,1506.2 63.4,1499.7 67.8,1499.7"/>
<text class="tx" x="63.5" y="1410.6" font-size="11" text-anchor="middle" transform="rotate(-90 63.5 1410.6)">D1</text>
<line class="t" x1="288" y1="1336.7" x2="404.7" y2="1336.7"/>
<line class="t" x1="287.7" y1="1481.8" x2="404.7" y2="1481.8"/>
<line class="t" x1="400" y1="1336.7" x2="400" y2="1481.8"/>
<polygon class="ar" points="400,1336.7 402.2,1343.2 397.8,1343.2"/>
<polygon class="ar" points="400,1481.8 397.8,1475.3 402.2,1475.3"/>
<text class="tx" x="396" y="1410" font-size="11.5" text-anchor="middle" transform="rotate(-90 396 1410)">D2</text>
<line class="t" x1="115.6" y1="1410" x2="294.2" y2="1410"/>
<path class="l" d="M141.3 1414.7H153.7V1497.3H175.5V1503H146.5Q141.3 1503 141.3 1497.8Z" style="fill:url(#hA)"/>
<path class="l" d="M150.5 1416Q158 1455 152 1496" style="fill:#fff"/>
<rect class="l" x="144.2" y="1503" width="37" height="3.8"/>
<path class="l" d="M157.5 1410H166.6V1476.4H175.5V1496.3H157.5Z" style="fill:url(#hX)"/>
<path class="l" d="M176.8 1410H288.5V1416.5H284V1445H288.5V1466H284V1470H262V1467.8H180.6V1443.2H183.7V1416.5H176.8Z" style="fill:url(#hX)"/>
<rect class="l" x="183.7" y="1416.5" width="100.3" height="28.5" style="fill:#fff"/>
<path class="l" d="M182 1477.3H243V1493.5H203V1489.7H192.6V1493.5H186Z" style="fill:url(#hB)"/>
<path class="l" d="M244.6 1466H285V1484.6H262.7V1478H250V1484.6H244.6Z" style="fill:url(#hA)"/>
<rect class="l" x="254" y="1470" width="18" height="3.4" style="fill:#fff"/>
<rect class="l" x="257" y="1484.6" width="5.7" height="10.4" style="fill:url(#hF)"/>
<rect class="l" x="208.7" y="1496.3" width="26.6" height="13.3" rx="2.5" style="fill:url(#hX)"/>
<path class="l" d="M142.5 1410V1317.5L146.3 1313.2H178Q180.5 1313.5 180.5 1315.5Q180.5 1317.5 178 1317.8H147.3"/>
<line class="l" x1="147.3" y1="1317.8" x2="147.3" y2="1409.6"/>
<path class="l" d="M148.3 1318.5H177.8A4.2 4.2 0 0 1 177.8 1327H148.3"/>
<path class="l" d="M148.3 1340.3H177.9A4.1 4.1 0 0 1 177.9 1348.5H148.3"/>
<path class="l" d="M148.3 1371.6H177.4A4.6 4.6 0 0 1 177.4 1380.8H148.3"/>
<path class="l" d="M148.3 1318.5Q150.2 1322.7 148.3 1327V1340.3Q150.2 1344.4 148.3 1348.5V1371.6Q150.2 1376.2 148.3 1380.8V1409"/>
<line class="l" x1="180" y1="1317.8" x2="210.6" y2="1317.8"/>
<circle class="t" cx="197.8" cy="1363.6" r="2.4"/>
<line class="t" x1="188.3" y1="1363.6" x2="207.3" y2="1363.6"/>
<line class="t" x1="197.8" y1="1354.6" x2="197.8" y2="1372.6"/>
<path class="l" d="M210.6 1410V1312.1H234Q238.4 1312.1 238.4 1316.5V1410"/>
<path class="l" d="M238.4 1325.8H261.8V1410"/>
<line class="l" x1="257.7" y1="1325.8" x2="257.7" y2="1410"/>
<path class="l" d="M261.8 1336.7H285.1V1410"/>
<path class="l" d="M285.1 1356H288V1410"/>
<rect class="l" x="288" y="1376.6" width="39.7" height="25"/>
<line class="t" x1="271.4" y1="1389.6" x2="335.2" y2="1389.6"/>
<rect class="l" x="128" y="1395.7" width="10.5" height="27.5" rx="2" style="fill:#fff"/>
<rect class="l" x="138.5" y="1398.5" width="2.8" height="22" style="fill:#fff"/>
<path class="l" d="M137.6 1423L131.8 1449M140.2 1423L134.5 1450"/>
<path class="l" d="M132.3 1447.5Q125.5 1453 126.5 1457.5Q128.5 1462 131.8 1466Q136 1462 138 1457.5Q138.6 1452 132.3 1447.5ZM132.3 1451Q129 1454.5 129.5 1457.5L131.8 1461.5L135 1457.5Q135.5 1454 132.3 1451Z"/>
<path class="l" d="M131 1463V1483M132.6 1463V1483"/>
<path class="l" d="M131.8 1483V1538Q131.8 1548 141.8 1548H234Q245.2 1548 245.2 1538.5"/>
<line class="t" x1="157.4" y1="1506.8" x2="157.4" y2="1548"/>
<line class="l" x1="175.5" y1="1410" x2="175.5" y2="1476.4"/>
<path class="l" d="M180.6 1467.8V1477.3"/>
<rect class="l" x="186.9" y="1419" width="8.5" height="23.5"/>
<line class="l" x1="183.7" y1="1423" x2="195.4" y2="1423"/>
<line class="l" x1="183.7" y1="1438.5" x2="195.4" y2="1438.5"/>
<rect class="l" x="195.4" y="1419" width="36.1" height="23.5"/>
<line class="l" x1="195.4" y1="1424.5" x2="231.5" y2="1424.5"/>
<line class="l" x1="195.4" y1="1437" x2="231.5" y2="1437"/>
<line class="t" x1="186" y1="1430.6" x2="262" y2="1430.6"/>
<rect class="l" x="231.5" y="1419" width="11.5" height="23.5"/>
<rect class="l" x="228" y="1429" width="5" height="3.2" rx="1.2"/>
<rect class="l" x="245.2" y="1417.5" width="16" height="26"/>
<rect class="b" x="247.5" y="1421" width="7" height="5.5"/>
<rect class="b" x="247.5" y="1435" width="7" height="5.5"/>
<line class="l" x1="256.5" y1="1417.5" x2="256.5" y2="1443.5"/>
<rect class="l" x="272.5" y="1416.5" width="11.5" height="28.5"/>
<rect class="l" x="285" y="1417.6" width="44.5" height="25.5" style="fill:#fff"/>
<rect class="l" x="289" y="1417.6" width="40.5" height="4.2" style="fill:url(#hA)"/>
<rect class="l" x="289" y="1438.9" width="40.5" height="4.2" style="fill:url(#hA)"/>
<path class="l" d="M285 1421.5L289.5 1438.9"/>
<line class="t" x1="285" y1="1430.6" x2="337.5" y2="1430.6"/>
<line class="t" x1="197.3" y1="1483" x2="197.3" y2="1512.5"/>
<rect class="l" x="192.6" y="1489.7" width="10.4" height="3.8" style="fill:#fff"/>
<rect class="l" x="194.5" y="1493.5" width="6.3" height="12.5" style="fill:#fff"/>
<path class="l" d="M241 1495.2V1488Q241 1484 245.2 1484Q249.5 1484 249.5 1488V1495.2" style="fill:#fff"/>
<path class="l" d="M236.2 1495.2H254.3L248.7 1535.6H241.8Z" style="fill:#fff"/>
<path class="l" d="M240.5 1495.2L243.8 1535.6M250.5 1495.2L246.8 1535.6M242.5 1503H248M243.5 1503V1514H247V1503"/>
</g>
<g id="gz-front">
<text class="tc" x="595.3" y="1282.5" font-size="15" text-anchor="middle">去盖</text>
<text class="tx" x="595.8" y="1299.7" font-size="15" text-anchor="middle">After the cover is removed</text>
<rect class="l" x="509.4" y="1317.2" width="172.9" height="169.6" rx="10.5" style="fill:#fff"/>
<circle class="l" cx="523.6" cy="1329.6" r="7"/>
<line class="t" x1="514.6" y1="1329.6" x2="532.6" y2="1329.6"/>
<line class="t" x1="523.6" y1="1320.6" x2="523.6" y2="1338.6"/>
<circle class="l" cx="668" cy="1329.6" r="7"/>
<line class="t" x1="659" y1="1329.6" x2="677" y2="1329.6"/>
<line class="t" x1="668" y1="1320.6" x2="668" y2="1338.6"/>
<circle class="l" cx="523.2" cy="1473.7" r="7"/>
<line class="t" x1="514.2" y1="1473.7" x2="532.2" y2="1473.7"/>
<line class="t" x1="523.2" y1="1464.7" x2="523.2" y2="1482.7"/>
<circle class="l" cx="667.8" cy="1473.7" r="7"/>
<line class="t" x1="658.8" y1="1473.7" x2="676.8" y2="1473.7"/>
<line class="t" x1="667.8" y1="1464.7" x2="667.8" y2="1482.7"/>
<circle class="l" cx="596.2" cy="1402.3" r="86.6" style="fill:#fff"/>
<circle class="l" cx="596.2" cy="1402.3" r="75.8"/>
<circle class="l" cx="596.2" cy="1402.3" r="66.4"/>
<circle class="l" cx="596.2" cy="1402.3" r="62.8"/>
<line class="l" x1="549.2" y1="1355.3" x2="542.6" y2="1348.7"/>
<line class="l" x1="643.2" y1="1355.3" x2="649.8" y2="1348.7"/>
<line class="l" x1="533.8" y1="1379.6" x2="525" y2="1376.4"/>
<line class="l" x1="533.8" y1="1425" x2="525" y2="1428.2"/>
<line class="l" x1="658.6" y1="1425" x2="667.4" y2="1428.2"/>
<line class="l" x1="658.6" y1="1379.6" x2="667.4" y2="1376.4"/>
<line class="l" x1="643.2" y1="1449.3" x2="649.8" y2="1455.9"/>
<line class="l" x1="549.2" y1="1449.3" x2="542.6" y2="1455.9"/>
<rect class="l" x="568.8" y="1320.5" width="12" height="6" style="fill:#fff" transform="rotate(-13 574.8 1323.5)"/>
<rect class="l" x="668.6" y="1419.7" width="12" height="6" style="fill:#fff" transform="rotate(75 674.6 1422.7)"/>
<rect class="l" x="590.8" y="1465" width="10" height="12" style="fill:#fff" transform="rotate(0 595.8 1471)"/>
<rect class="l" x="533.5" y="1455" width="12" height="6" style="fill:#fff" transform="rotate(-48 539.5 1458)"/>
<line class="cl2" x1="505" y1="1402.3" x2="687.5" y2="1402.3"/>
<line class="cl2" x1="596.2" y1="1310.6" x2="596.2" y2="1491.4"/>
<circle class="l" cx="575.1" cy="1382.3" r="14.4" style="fill:#fff"/>
<circle class="l" cx="575.1" cy="1382.3" r="12"/>
<circle class="l" cx="575.1" cy="1382.3" r="8.8"/>
<rect class="t" x="563.4" y="1381" width="2.6" height="2.6" style="fill:#fff"/>
<rect class="t" x="584.2" y="1381" width="2.6" height="2.6" style="fill:#fff"/>
<rect class="t" x="573.8" y="1370.6" width="2.6" height="2.6" style="fill:#fff"/>
<rect class="t" x="573.8" y="1391.4" width="2.6" height="2.6" style="fill:#fff"/>
<line class="t" x1="569.1" y1="1388.3" x2="581.1" y2="1376.3"/>
<circle class="l" cx="575.1" cy="1422.3" r="14.4" style="fill:#fff"/>
<circle class="l" cx="575.1" cy="1422.3" r="12"/>
<circle class="l" cx="575.1" cy="1422.3" r="8.8"/>
<rect class="t" x="563.4" y="1421" width="2.6" height="2.6" style="fill:#fff"/>
<rect class="t" x="584.2" y="1421" width="2.6" height="2.6" style="fill:#fff"/>
<rect class="t" x="573.8" y="1410.6" width="2.6" height="2.6" style="fill:#fff"/>
<rect class="t" x="573.8" y="1431.4" width="2.6" height="2.6" style="fill:#fff"/>
<line class="t" x1="569.1" y1="1428.3" x2="581.1" y2="1416.3"/>
<circle class="l" cx="616.5" cy="1382.3" r="14.4" style="fill:#fff"/>
<circle class="l" cx="616.5" cy="1382.3" r="12"/>
<circle class="l" cx="616.5" cy="1382.3" r="8.8"/>
<rect class="t" x="604.8" y="1381" width="2.6" height="2.6" style="fill:#fff"/>
<rect class="t" x="625.6" y="1381" width="2.6" height="2.6" style="fill:#fff"/>
<rect class="t" x="615.2" y="1370.6" width="2.6" height="2.6" style="fill:#fff"/>
<rect class="t" x="615.2" y="1391.4" width="2.6" height="2.6" style="fill:#fff"/>
<line class="t" x1="610.5" y1="1388.3" x2="622.5" y2="1376.3"/>
<circle class="l" cx="616.5" cy="1422.3" r="14.4" style="fill:#fff"/>
<circle class="l" cx="616.5" cy="1422.3" r="12"/>
<circle class="l" cx="616.5" cy="1422.3" r="8.8"/>
<rect class="t" x="604.8" y="1421" width="2.6" height="2.6" style="fill:#fff"/>
<rect class="t" x="625.6" y="1421" width="2.6" height="2.6" style="fill:#fff"/>
<rect class="t" x="615.2" y="1410.6" width="2.6" height="2.6" style="fill:#fff"/>
<rect class="t" x="615.2" y="1431.4" width="2.6" height="2.6" style="fill:#fff"/>
<line class="t" x1="610.5" y1="1428.3" x2="622.5" y2="1416.3"/>
<path class="t" d="M566.5 1395V1402.3H623.5V1397"/>
<path class="t" d="M593.5 1373H599.5M596.5 1373V1431M593.5 1431H599.5"/>
<line class="t" x1="596.2" y1="1352" x2="596.2" y2="1368"/>
<line class="t" x1="596.2" y1="1440" x2="596.2" y2="1454"/>
<text class="tx" x="570.8" y="1362.8" font-size="11" text-anchor="middle">B</text>
<text class="tx" x="616.5" y="1362.8" font-size="11" text-anchor="middle">C</text>
<text class="tx" x="579.5" y="1451.7" font-size="11" text-anchor="middle">A</text>
<text class="tx" x="611.1" y="1451.7" font-size="11" text-anchor="middle">N</text>
<line class="t" x1="432.4" y1="1317.2" x2="515.7" y2="1317.2"/>
<line class="t" x1="432.4" y1="1486.8" x2="509" y2="1486.8"/>
<line class="t" x1="437.7" y1="1317.2" x2="437.7" y2="1486.8"/>
<polygon class="ar" points="437.7,1317.2 439.9,1323.7 435.5,1323.7"/>
<polygon class="ar" points="437.7,1486.8 435.5,1480.3 439.9,1480.3"/>
<text class="tx" x="433" y="1402" font-size="11" text-anchor="middle" transform="rotate(-90 433 1402)">P</text>
<line class="t" x1="466" y1="1329.6" x2="515" y2="1329.6"/>
<line class="t" x1="466" y1="1473.7" x2="516" y2="1473.7"/>
<line class="t" x1="471.4" y1="1329.6" x2="471.4" y2="1473.7"/>
<polygon class="ar" points="471.4,1329.6 473.6,1336.1 469.2,1336.1"/>
<polygon class="ar" points="471.4,1473.7 469.2,1467.2 473.6,1467.2"/>
<text class="tx" x="468.3" y="1402" font-size="11" text-anchor="middle" transform="rotate(-90 468.3 1402)">Q</text>
<line class="t" x1="523.4" y1="1481" x2="523.4" y2="1513"/>
<line class="t" x1="667.9" y1="1481" x2="667.9" y2="1513"/>
<line class="t" x1="523.4" y1="1509.6" x2="667.9" y2="1509.6"/>
<polygon class="ar" points="523.4,1509.6 529.9,1507.4 529.9,1511.8"/>
<polygon class="ar" points="667.9,1509.6 661.4,1511.8 661.4,1507.4"/>
<text class="tx" x="595.5" y="1506" font-size="11.5" text-anchor="middle">Q</text>
<line class="t" x1="509.3" y1="1482" x2="509.3" y2="1537.5"/>
<line class="t" x1="682.3" y1="1482" x2="682.3" y2="1537.5"/>
<line class="t" x1="509.3" y1="1535" x2="682.3" y2="1535"/>
<polygon class="ar" points="509.3,1535 515.8,1532.8 515.8,1537.2"/>
<polygon class="ar" points="682.3,1535 675.8,1537.2 675.8,1532.8"/>
<text class="tx" x="595.5" y="1531" font-size="11.5" text-anchor="middle">P</text>
<path class="t" d="M722.8 1384.2H689.1L631.5 1412"/>
<polygon class="ar" points="631.5,1412 636.4,1407.2 638.3,1411.2"/>
<text class="tx" x="710.5" y="1382.6" font-size="10.5" text-anchor="middle" letter-spacing="0.4">ϕd1</text>
<path class="t" d="M737.8 1429.4H716.6L543.4 1392.9"/>
<polygon class="ar" points="633.5,1411.3 640.3,1410.5 639.4,1414.8"/>
<polygon class="ar" points="563.6,1397 556.8,1397.8 557.7,1393.5"/>
<text class="tx" x="727.6" y="1427.2" font-size="10.5" text-anchor="middle" letter-spacing="0.4">ϕd</text>
<path class="t" d="M588.4 1441.8L632 1412.7"/>
<polygon class="ar" points="603.5,1431.7 599.3,1437.1 596.9,1433.5"/>
<polygon class="ar" points="632.5,1412.4 628.3,1417.8 625.9,1414.2"/>
<path class="t" d="M458.2 1518.7H494.7L537 1452.4"/>
<polygon class="ar" points="519.4,1479.8 517.8,1486.5 514,1484.1"/>
<polygon class="ar" points="527.2,1467.6 528.8,1460.9 532.6,1463.3"/>
<text class="tx" x="474.8" y="1516" font-size="10.5" text-anchor="middle" letter-spacing="0.4">4ϕd2</text>
</g>
</svg>
<div id="t2">
<div class="hd">
<svg class="dg" width="101" height="40" viewBox="0 0 101 40"><line x1="0" y1="0" x2="101" y2="39.5" stroke="#111" stroke-width="1.2"/></svg>
<span class="k1">尺寸</span><span class="k2">规格</span>
<span class="hc" style="left:101.0px;width:49.1px">L1</span>
<span class="hc" style="left:150.1px;width:49.1px">L2</span>
<span class="hc" style="left:199.2px;width:49.1px">L3</span>
<span class="hc" style="left:248.3px;width:48.7px">L4</span>
<span class="hc" style="left:297.0px;width:49.1px">D1</span>
<span class="hc" style="left:346.1px;width:49.2px">D2</span>
<span class="hc" style="left:395.3px;width:48.6px">D3</span>
<span class="hc" style="left:443.9px;width:49.1px">P</span>
<span class="hc" style="left:493.0px;width:49.1px"><span class="c">Φ</span>d1</span>
<span class="hc" style="left:542.1px;width:49.1px"><span class="c">Φ</span>d2</span>
<span class="hc" style="left:591.2px;width:69.3px">Q<span class="c">±</span>0.2</span>
<span class="hc" style="left:660.5px;width:91.5px"><span class="c">Φ</span>d<span class="c">±</span>0.07</span>
</div>
<div class="r" style="top:39px">
<span class="dc" style="left:0.0px;width:101.0px">15A</span>
<span class="dc" style="left:101.0px;width:49.1px">130</span>
<span class="dc" style="left:150.1px;width:49.1px">55</span>
<span class="dc" style="left:199.2px;width:49.1px">132</span>
<span class="dc" style="left:248.3px;width:48.7px">8</span>
<span class="dc" style="left:297.0px;width:49.1px"><span class="c">Φ</span>49</span>
<span class="dc" style="left:346.1px;width:49.2px"><span class="c">Φ</span>33</span>
<span class="dc" style="left:395.3px;width:48.6px"><span class="c">Φ</span>35</span>
<span class="dc" style="left:443.9px;width:49.1px">42.5</span>
<span class="dc" style="left:493.0px;width:49.1px">3</span>
<span class="dc" style="left:542.1px;width:49.1px">4.5</span>
<span class="dc" style="left:591.2px;width:69.3px">34</span>
<span class="dc" style="left:660.5px;width:91.5px">13</span>
</div>
<div class="r" style="top:68px">
<span class="dc" style="left:0.0px;width:101.0px">25A</span>
<span class="dc" style="left:101.0px;width:49.1px">144</span>
<span class="dc" style="left:150.1px;width:49.1px">64</span>
<span class="dc" style="left:199.2px;width:49.1px">142</span>
<span class="dc" style="left:248.3px;width:48.7px">18</span>
<span class="dc" style="left:297.0px;width:49.1px"><span class="c">Φ</span>61</span>
<span class="dc" style="left:346.1px;width:49.2px"><span class="c">Φ</span>42</span>
<span class="dc" style="left:395.3px;width:48.6px"><span class="c">Φ</span>51</span>
<span class="dc" style="left:443.9px;width:49.1px">51</span>
<span class="dc" style="left:493.0px;width:49.1px">3.5</span>
<span class="dc" style="left:542.1px;width:49.1px">4.5</span>
<span class="dc" style="left:591.2px;width:69.3px">42</span>
<span class="dc" style="left:660.5px;width:91.5px">15.6</span>
</div>
<div class="r" style="top:97px">
<span class="dc" style="left:0.0px;width:101.0px">60A</span>
<span class="dc" style="left:101.0px;width:49.1px">153</span>
<span class="dc" style="left:150.1px;width:49.1px">72</span>
<span class="dc" style="left:199.2px;width:49.1px">145</span>
<span class="dc" style="left:248.3px;width:48.7px">22</span>
<span class="dc" style="left:297.0px;width:49.1px"><span class="c">Φ</span>64</span>
<span class="dc" style="left:346.1px;width:49.2px"><span class="c">Φ</span>48</span>
<span class="dc" style="left:395.3px;width:48.6px"><span class="c">Φ</span>51</span>
<span class="dc" style="left:443.9px;width:49.1px">56</span>
<span class="dc" style="left:493.0px;width:49.1px">5.5</span>
<span class="dc" style="left:542.1px;width:49.1px">4.5</span>
<span class="dc" style="left:591.2px;width:69.3px">47.5</span>
<span class="dc" style="left:660.5px;width:91.5px">18</span>
</div>
<div class="r" style="top:126px">
<span class="dc" style="left:0.0px;width:101.0px">100A</span>
<span class="dc" style="left:101.0px;width:49.1px">166</span>
<span class="dc" style="left:150.1px;width:49.1px">85</span>
<span class="dc" style="left:199.2px;width:49.1px">173</span>
<span class="dc" style="left:248.3px;width:48.7px">30</span>
<span class="dc" style="left:297.0px;width:49.1px"><span class="c">Φ</span>79</span>
<span class="dc" style="left:346.1px;width:49.2px"><span class="c">Φ</span>61</span>
<span class="dc" style="left:395.3px;width:48.6px"><span class="c">Φ</span>65</span>
<span class="dc" style="left:443.9px;width:49.1px">70</span>
<span class="dc" style="left:493.0px;width:49.1px">7</span>
<span class="dc" style="left:542.1px;width:49.1px">5.5</span>
<span class="dc" style="left:591.2px;width:69.3px">60</span>
<span class="dc" style="left:660.5px;width:91.5px">24</span>
</div>
<div class="r" style="top:155px">
<span class="dc" style="left:0.0px;width:101.0px">150A</span>
<span class="dc" style="left:101.0px;width:49.1px">177</span>
<span class="dc" style="left:150.1px;width:49.1px">92</span>
<span class="dc" style="left:199.2px;width:49.1px">188</span>
<span class="dc" style="left:248.3px;width:48.7px">32</span>
<span class="dc" style="left:297.0px;width:49.1px"><span class="c">Φ</span>84</span>
<span class="dc" style="left:346.1px;width:49.2px"><span class="c">Φ</span>65</span>
<span class="dc" style="left:395.3px;width:48.6px"><span class="c">Φ</span>70</span>
<span class="dc" style="left:443.9px;width:49.1px">75</span>
<span class="dc" style="left:493.0px;width:49.1px">8.5</span>
<span class="dc" style="left:542.1px;width:49.1px">5.5</span>
<span class="dc" style="left:591.2px;width:69.3px">64</span>
<span class="dc" style="left:660.5px;width:91.5px">27</span>
</div>
<div class="r" style="top:184px">
<span class="dc" style="left:0.0px;width:101.0px">200A</span>
<span class="dc" style="left:101.0px;width:49.1px">195</span>
<span class="dc" style="left:150.1px;width:49.1px">100</span>
<span class="dc" style="left:199.2px;width:49.1px">199</span>
<span class="dc" style="left:248.3px;width:48.7px">32</span>
<span class="dc" style="left:297.0px;width:49.1px"><span class="c">Φ</span>90</span>
<span class="dc" style="left:346.1px;width:49.2px"><span class="c">Φ</span>71</span>
<span class="dc sm" style="left:395.3px;width:48.6px"><span class="c">Φ</span>73.5</span>
<span class="dc" style="left:443.9px;width:49.1px">80</span>
<span class="dc" style="left:493.0px;width:49.1px">10</span>
<span class="dc" style="left:542.1px;width:49.1px">5.5</span>
<span class="dc" style="left:591.2px;width:69.3px">70</span>
<span class="dc" style="left:660.5px;width:91.5px">30</span>
</div>
<div class="r" style="top:213px">
<span class="dc" style="left:0.0px;width:101.0px">300A</span>
<span class="dc" style="left:101.0px;width:49.1px">200</span>
<span class="dc" style="left:150.1px;width:49.1px">100</span>
<span class="dc" style="left:199.2px;width:49.1px">199</span>
<span class="dc" style="left:248.3px;width:48.7px">42</span>
<span class="dc" style="left:297.0px;width:49.1px"><span class="c">Φ</span>90</span>
<span class="dc" style="left:346.1px;width:49.2px"><span class="c">Φ</span>71</span>
<span class="dc sm" style="left:395.3px;width:48.6px"><span class="c">Φ</span>73.5</span>
<span class="dc" style="left:443.9px;width:49.1px">80</span>
<span class="dc" style="left:493.0px;width:49.1px">12</span>
<span class="dc" style="left:542.1px;width:49.1px">5.5</span>
<span class="dc" style="left:591.2px;width:69.3px">70</span>
<span class="dc" style="left:660.5px;width:91.5px">34.5</span>
</div>
<i class="v" style="left:100.5px"></i>
<i class="v" style="left:149.6px"></i>
<i class="v" style="left:198.7px"></i>
<i class="v" style="left:247.8px"></i>
<i class="v" style="left:296.5px"></i>
<i class="v" style="left:345.6px"></i>
<i class="v" style="left:394.8px"></i>
<i class="v" style="left:443.4px"></i>
<i class="v" style="left:492.5px"></i>
<i class="v" style="left:541.6px"></i>
<i class="v" style="left:590.7px"></i>
<i class="v" style="left:660.0px"></i>
</div>
</body>
</html>
